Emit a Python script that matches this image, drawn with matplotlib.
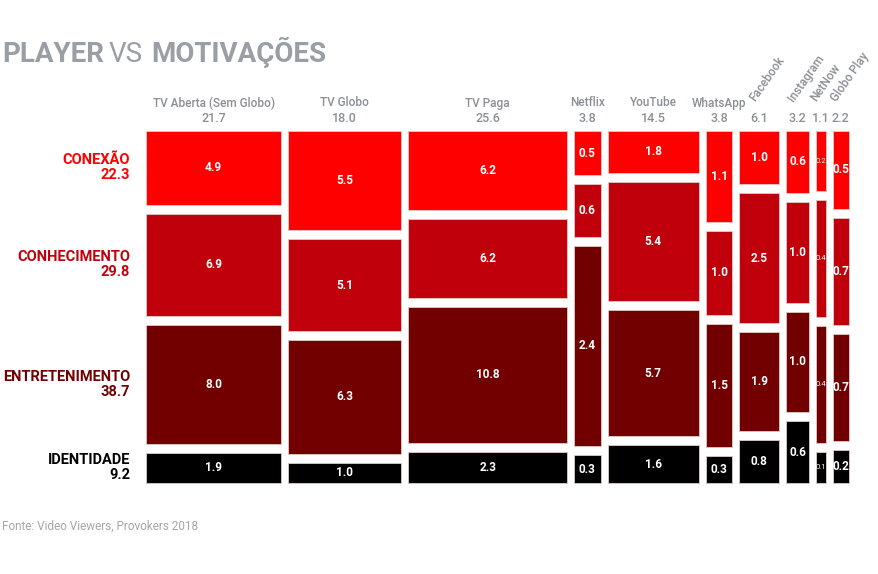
import matplotlib
matplotlib.use("Agg")
import matplotlib.pyplot as plt
from matplotlib.patches import Rectangle

plt.rcParams["font.family"] = ["Roboto", "DejaVu Sans"]

# dados
players = ["TV Aberta (Sem Globo)", "TV Globo", "TV Paga", "Netflix", "YouTube",
           "WhatsApp", "Facebook", "Instagram", "NetNow", "Globo Play"]
player_totals = [21.7, 18.0, 25.6, 3.8, 14.5, 3.8, 6.1, 3.2, 1.1, 2.2]
rotated = ["Facebook", "Instagram", "NetNow", "Globo Play"]

motivos = ["CONEXÃO", "CONHECIMENTO", "ENTRETENIMENTO", "IDENTIDADE"]
motivo_totals = [22.3, 29.8, 38.7, 9.2]

conexao = [4.9, 5.5, 6.2, 0.5, 1.8, 1.1, 1.0, 0.6, 0.2, 0.5]
conhecimento = [6.9, 5.1, 6.2, 0.6, 5.4, 1.0, 2.5, 1.0, 0.4, 0.7]
entretenimento = [8.0, 6.3, 10.8, 2.4, 5.7, 1.5, 1.9, 1.0, 0.4, 0.7]
identidade = [1.9, 1.0, 2.3, 0.3, 1.6, 0.3, 0.8, 0.6, 0.1, 0.2]

cores = ["#ff0000", "#c0000b", "#720000", "#000000"]
cinza = "#8a8f96"

W, H = 879, 574
fig = plt.figure(figsize=(W / 100, H / 100), dpi=100)
ax = fig.add_axes([0, 0, 1, 1])
ax.set_xlim(0, W)
ax.set_ylim(H, 0)
ax.axis("off")

# area do mosaico (pixels)
x0, x1 = 146, 849
y0, y1 = 131, 483
gx, gy = 7, 9
pad = 3  # cada celula tem um pouco a mais que o proporcional
n = len(players)
escala_x = (x1 - x0 - gx * (n - 1) - pad * n) / sum(player_totals)

series = [conexao, conhecimento, entretenimento, identidade]

x = x0
centros_linha = []
for j, nome in enumerate(players):
    w = player_totals[j] * escala_x + pad
    vals = [s[j] for s in series]
    escala_y = (y1 - y0 - gy * (len(vals) - 1) - pad * len(vals)) / sum(vals)
    y = y0
    narrow = w < 12
    for i, v in enumerate(vals):
        h = v * escala_y + pad
        ax.add_patch(Rectangle((x, y), w, h, facecolor=cores[i],
                               edgecolor="#e3c9c9", linewidth=0.6))
        ax.text(x + w / 2, y + h / 2, f"{v:.1f}", color="white",
                fontsize=5.5 if narrow else 8.5, fontweight="normal" if narrow else "bold",
                ha="center", va="center")
        if j == 0:
            centros_linha.append(y + h / 2)
        y += h + gy
    cx = x + w / 2
    if nome in rotated:
        ax.text(cx - 2, 104, nome, color=cinza, fontsize=8.5, fontweight="medium",
                rotation=55, rotation_mode="anchor", ha="left", va="bottom")
    else:
        ax.text(cx, 103, nome, color=cinza, fontsize=8.5, fontweight="medium",
                ha="center", va="center")
    ax.text(cx, 118, f"{player_totals[j]:.1f}", color=cinza, fontsize=9,
            fontweight="medium", ha="center", va="center")
    x += w + gx

# rotulos das linhas
for i, m in enumerate(motivos):
    ax.text(130, centros_linha[i], f"{m}\n{motivo_totals[i]:.1f}", color=cores[i],
            fontsize=10.5, fontweight="bold", ha="right", va="center", linespacing=1.1)

# titulo
renderer = fig.canvas.get_renderer()
t1 = ax.text(2, 62, "PLAYER", color="#9a9fa6", fontsize=20, fontweight="bold",
             ha="left", va="baseline")
bb = t1.get_window_extent(renderer)
t2 = ax.text(bb.x1 + 5, 62, "VS", color="#9a9fa6", fontsize=20, fontweight="normal",
             ha="left", va="baseline")
bb = t2.get_window_extent(renderer)
ax.text(bb.x1 + 8, 62, "MOTIVAÇÕES", color="#9a9fa6", fontsize=20, fontweight="bold",
        ha="left", va="baseline")

ax.text(2, 530, "Fonte: Video Viewers, Provokers 2018", color="#a3a7ad",
        fontsize=8.5, ha="left", va="baseline")

fig.savefig("out.png", dpi=100)
plt.close()
